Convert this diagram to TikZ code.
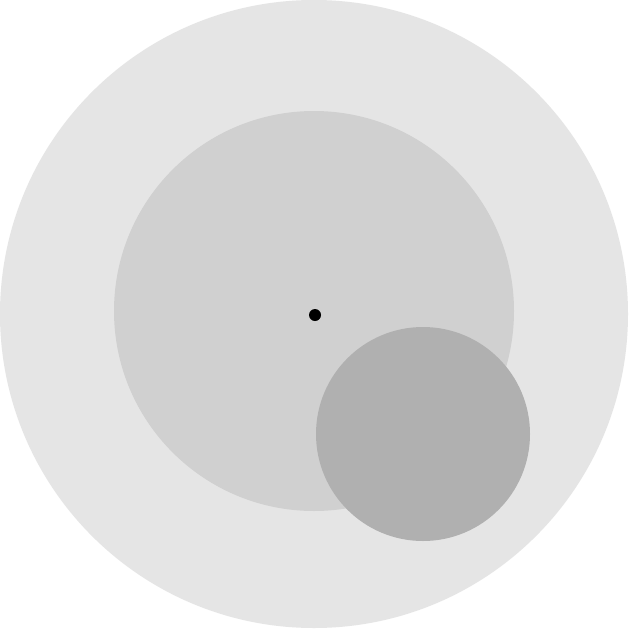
\documentclass[tikz,border=0pt]{standalone}
\begin{document}
\begin{tikzpicture}[x=1pt,y=-1pt,
  disk/.style={draw=none}]
\definecolor{outerc}{HTML}{E5E5E5}
\definecolor{midc}{HTML}{D0D0D0}
\definecolor{smallc}{HTML}{B0B0B0}
\useasboundingbox (0,0) rectangle (629,629);
\fill[white] (0,0) rectangle (629,629);
\fill[outerc] (314,314) circle (314);
\fill[midc] (314,311) circle (200);
\fill[smallc] (423,434) circle (107);
\node[circle,fill=black,inner sep=0pt,minimum size=12pt] (dot) at (315,315) {};
\end{tikzpicture}
\end{document}
